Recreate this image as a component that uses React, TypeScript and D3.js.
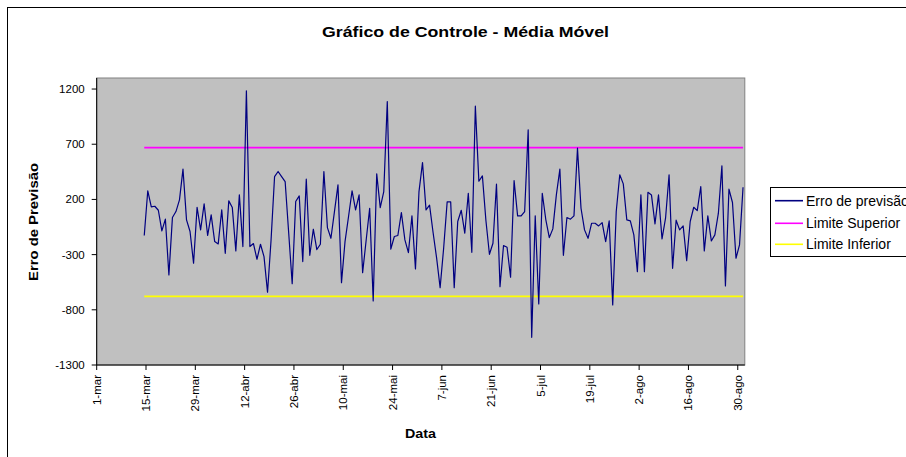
import React from 'react';
import * as d3 from 'd3';

// ---- data ----
const firstDay = '2006-03-14';
const dayAfterLast = '2006-09-01';
const errorValues = [
  -127, 278, 132, 138, 102, -85, 21, -484, 36, 90,
  196, 474, 15, -91, -378, 129, -76, 160, -127, 60,
  -182, -203, 105, -288, 187, 126, -266, 241, -227, 1184,
  -227, -200, -342, -206, -318, -641, -170, 407, 453, 407,
  362, -100, -563, 181, 232, -363, 383, -306, -70, -254,
  -206, 453, -55, -152, 90, 332, -554, -182, 45, 278,
  105, 241, -463, -170, 120, -720, 432, 126, 271, 1087,
  -251, -136, -127, 81, -167, -282, 51, -430, 271, 534,
  105, 148, -100, -330, -599, -242, 178, 178, -599, 0,
  102, -106, 256, -279, 1045, 365, 413, 9, -297, -197,
  338, -590, -218, -233, -505, 371, 51, 51, 90, 831,
  -1049, 51, -747, 256, 18, -146, -67, 241, 474, -306,
  36, 21, 51, 664, 120, -76, -152, -16, -16, -40,
  -10, -182, 6, -756, 90, 423, 341, 15, 6, -121,
  -454, 241, -454, 265, 241, -22, 241, -158, 30, 423,
  -424, 12, -76, -40, -354, 0, 129, 99, 317, -266,
  51, -176, -121, 75, 504, -584, 293, 172, -333, -212,
  311,
];
const upperLimit = 669;
const lowerLimit = -678;
const yTickValues = [1200, 700, 200, -300, -800, -1300];
const axisStart = '2006-03-01';
const axisEnd = '2006-09-01';
const monthNames = ['jan', 'fev', 'mar', 'abr', 'mai', 'jun', 'jul', 'ago', 'set', 'out', 'nov', 'dez'];
const seriesNames = ['Erro de previsão', 'Limite Superior', 'Limite Inferior'];
const seriesColors = ['#000080', '#FF00FF', '#FFFF00'];
const titleText = 'Gráfico de Controle - Média Móvel';
const xTitle = 'Data';
const yTitle = 'Erro de Previsão';

const W = 906;
const H = 457;
const plot = { left: 96.7, right: 744.8, top: 78, bottom: 365 };
const FONT = '"Liberation Sans", Arial, Helvetica, sans-serif';

export default function App() {
  const parse = (s: string) => new Date(s + 'T00:00:00Z');
  const x = d3.scaleUtc().domain([parse(axisStart), parse(axisEnd)]).range([plot.left, plot.right]);
  const y = d3.scaleLinear().domain([-1300, 1300]).range([plot.bottom, plot.top]);

  const days = d3.utcDay.range(parse(firstDay), parse(dayAfterLast));
  const points = days.map((d, i) => ({ date: d, value: errorValues[i] }));
  const xc = (d: Date) => x(d3.utcHour.offset(d, 12));

  const line = d3
    .line<{ date: Date; value: number }>()
    .x((p) => xc(p.date))
    .y((p) => y(p.value));

  const xTicks = d3.utcDay.range(parse(axisStart), parse(axisEnd), 14);
  const fmt = (d: Date) => `${d.getUTCDate()}-${monthNames[d.getUTCMonth()]}`;

  const firstX = xc(days[0]);
  const lastX = xc(days[days.length - 1]);

  const legendRows = [200.7, 223.3, 244.3];

  return (
    <svg
      width={W}
      height={H}
      style={{ position: 'absolute', left: 0, top: 0, background: '#fff' }}
      fontFamily={FONT}
    >
      <rect x={0} y={0} width={W} height={H} fill="#fff" />
      {/* chart frame */}
      <rect x={7.5} y={7.5} width={1200} height={1200} fill="none" stroke="#000" strokeWidth={1} />

      <text
        x={465.5}
        y={37}
        textAnchor="middle"
        fontSize={15}
        fontWeight="bold"
        textLength={287}
        lengthAdjust="spacingAndGlyphs"
      >
        {titleText}
      </text>

      {/* plot area */}
      <rect
        x={plot.left}
        y={plot.top}
        width={plot.right - plot.left}
        height={plot.bottom - plot.top}
        fill="#C0C0C0"
        stroke="#808080"
        strokeWidth={1}
      />

      {/* limit lines */}
      <line x1={firstX} x2={lastX} y1={y(upperLimit)} y2={y(upperLimit)} stroke={seriesColors[1]} strokeWidth={1.6} />
      <line x1={firstX} x2={lastX} y1={y(lowerLimit)} y2={y(lowerLimit)} stroke={seriesColors[2]} strokeWidth={1.6} />

      {/* series */}
      <path d={line(points) || ''} fill="none" stroke={seriesColors[0]} strokeWidth={1.2} strokeLinejoin="round" />

      {/* axes */}
      <line x1={plot.left} x2={plot.left} y1={plot.top} y2={plot.bottom} stroke="#000" strokeWidth={1} />
      <line x1={plot.left} x2={plot.right} y1={plot.bottom} y2={plot.bottom} stroke="#000" strokeWidth={1} />

      {yTickValues.map((v) => (
        <g key={v}>
          <line x1={plot.left - 5} x2={plot.left} y1={y(v)} y2={y(v)} stroke="#000" />
          <text x={plot.left - 12} y={y(v)} dy="0.35em" textAnchor="end" fontSize={11.5}>
            {v}
          </text>
        </g>
      ))}

      {xTicks.map((d) => {
        const tx = x(d);
        return (
          <g key={+d}>
            <line x1={tx} x2={tx} y1={plot.bottom} y2={plot.bottom + 5} stroke="#000" />
            <text
              transform={`translate(${tx},${plot.bottom + 10}) rotate(-90)`}
              dy="0.35em"
              textAnchor="end"
              fontSize={11.5}
            >
              {fmt(d)}
            </text>
          </g>
        );
      })}

      <text x={420.5} y={438} textAnchor="middle" fontSize={13} fontWeight="bold" textLength={31} lengthAdjust="spacingAndGlyphs">
        {xTitle}
      </text>
      <text
        transform={`translate(38,222) rotate(-90)`}
        textAnchor="middle"
        fontSize={13}
        fontWeight="bold"
        textLength={118}
        lengthAdjust="spacingAndGlyphs"
      >
        {yTitle}
      </text>

      {/* legend */}
      <rect x={770.5} y={187.5} width={160} height={69} fill="#fff" stroke="#000" strokeWidth={1} />
      {seriesNames.map((name, i) => (
        <g key={name}>
          <line x1={775} x2={803} y1={legendRows[i]} y2={legendRows[i]} stroke={seriesColors[i]} strokeWidth={1.6} />
          <text x={806} y={legendRows[i]} dy="0.36em" fontSize={14}>
            {name}
          </text>
        </g>
      ))}
    </svg>
  );
}
